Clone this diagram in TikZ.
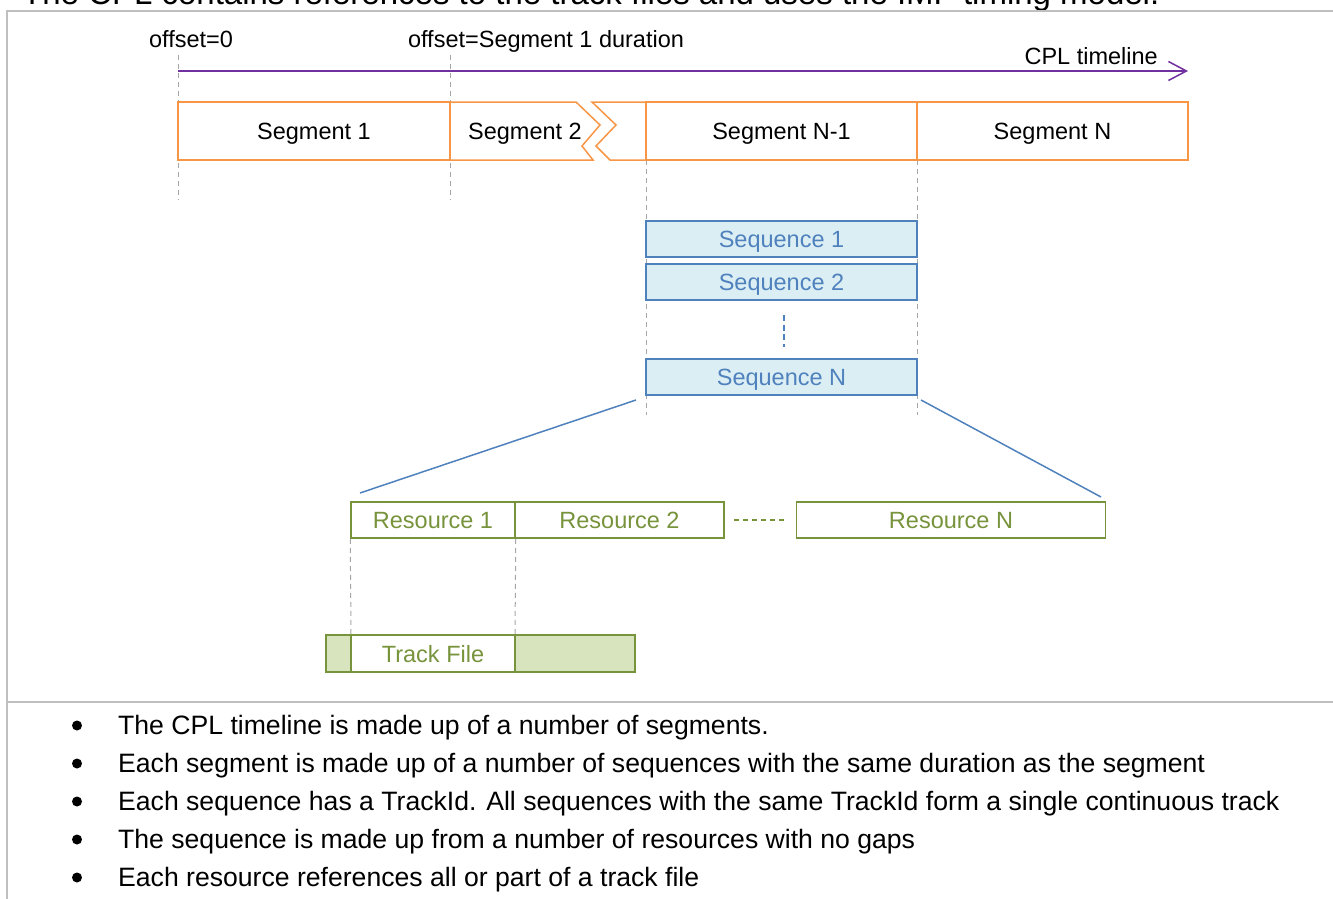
\documentclass[tikz,border=0pt]{standalone}
\usepackage{fontspec}
\setmainfont{Liberation Sans}
\usetikzlibrary{arrows.meta}
\definecolor{framegray}{RGB}{191,191,191}
\definecolor{guidegray}{RGB}{166,166,166}
\definecolor{segorange}{RGB}{247,150,70}
\definecolor{tlpurple}{RGB}{112,48,160}
\definecolor{seqblue}{RGB}{79,129,189}
\definecolor{seqfill}{RGB}{219,238,244}
\definecolor{resgreen}{RGB}{119,147,60}
\definecolor{trackfill}{RGB}{215,228,189}

\begin{document}
\begin{tikzpicture}[x=1pt,y=-1pt,
  lbl/.style={font=\fontsize{23.5}{28}\selectfont, inner sep=0pt, text height=17pt, text depth=0pt},
  bul/.style={font=\fontsize{26.6}{32}\selectfont, inner sep=0pt},
  dotmark/.style={circle, fill=black, inner sep=0pt, minimum size=10pt},
  guide/.style={draw=guidegray, line width=1pt, dash pattern=on 5pt off 4pt},
  segbox/.style={lbl, draw=segorange, line width=1.5pt, fill=white, minimum height=58pt},
  seqbox/.style={lbl, draw=seqblue, line width=1.5pt, fill=seqfill, text=seqblue, minimum width=271pt, minimum height=36pt},
  resbox/.style={lbl, draw=resgreen, line width=1.5pt, fill=white, text=resgreen, minimum height=36pt},
  link/.style={draw=seqblue, line width=1.5pt}]

\useasboundingbox (0,0) rectangle (1333,899);
\clip (0,0) rectangle (1333,899);

% heading, cut by the top edge
\node[font=\fontsize{33}{40}\selectfont, anchor=base west, inner sep=0pt] (head) at (22,5)
  {The CPL contains references to the track files and uses the IMF timing model.};

% frame
\draw[framegray, line width=2pt] (1333,11) -- (7,11) -- (7,899);
\draw[framegray, line width=2pt] (7,702) -- (1333,702);

% offset labels and guides
\node[lbl, anchor=base] (off0) at (191,48) {offset=0};
\node[lbl, anchor=base] (off1) at (546,48) {offset=Segment 1 duration};
\draw[guide] (178,55) -- (178,200);
\draw[guide] (450,55) -- (450,200);
\draw[guide] (646,160) -- (646,415);
\draw[guide] (917,160) -- (917,415);

% CPL timeline
\coordinate (tl0) at (178,71);
\coordinate (tl1) at (1188,71);
\draw[tlpurple, line width=1.5pt, -{Straight Barb[length=18pt,width=19pt,line width=1.5pt]}] (tl0) -- (tl1);
\node[lbl, anchor=base east] (tllbl) at (1158,64) {CPL timeline};

% segments
\node[segbox, minimum width=272pt] (seg1) at (314,131) {Segment 1};
\draw[segorange, line width=1.5pt, fill=white, line join=miter]
  (450,102) -- (576,102) -- (600,125) -- (582,146) -- (593,160) -- (450,160) -- cycle;
\node[lbl] (seg2) at (525,131) {Segment 2};
\draw[segorange, line width=1.5pt, fill=white]
  (646,102) -- (592,102) -- (616,125) -- (596,146) -- (610,160) -- (646,160);
\node[segbox, minimum width=271pt] (segn1) at (781.5,131) {Segment N-1};
\node[segbox, minimum width=271pt] (segn) at (1052.5,131) {Segment N};

% sequences
\node[seqbox] (sq1) at (781.5,239) {Sequence 1};
\node[seqbox] (sq2) at (781.5,282) {Sequence 2};
\node[seqbox] (sqn) at (781.5,377) {Sequence N};
\coordinate (gap0) at (784,315);
\coordinate (gap1) at (784,347);
\draw[seqblue, line width=1.5pt, dash pattern=on 6pt off 3.5pt] (gap0) -- (gap1);

% resources
\node[resbox, minimum width=164pt] (r1) at (433,520) {Resource 1};
\node[resbox, minimum width=209pt] (r2) at (619.5,520) {Resource 2};
\node[resbox, minimum width=309pt] (rn) at (951,520) {Resource N};
\draw[resgreen, line width=1.5pt, dash pattern=on 5pt off 4pt] ([xshift=9pt]r2.east) -- ([xshift=-12pt]rn.west);

% zoom lines from the last sequence to the resources
\coordinate (zl0) at (636,400);
\coordinate (zl1) at (360,493);
\coordinate (zr0) at (921,400);
\coordinate (zr1) at (1101,497);
\draw[link] (zl0) -- (zl1);
\draw[link] (zr0) -- (zr1);

% track file
\draw[guide] (r1.south west) -- (351,635);
\draw[guide] (r1.south east) -- (515,635);
\node[resbox, fill=trackfill, minimum width=309pt, minimum height=37pt] (tf) at (480.5,653.5) {};
\node[resbox, minimum width=164pt, minimum height=37pt] (tfpart) at (433,653.5) {Track File};

% notes
\foreach \y/\t [count=\i] in {
  734/{The CPL timeline is made up of a number of segments.},
  772/{Each segment is made up of a number of sequences with the same duration as the segment},
  810/{Each sequence has a TrackId. All sequences with the same TrackId form a single continuous track},
  848/{The sequence is made up from a number of resources with no gaps},
  886/{Each resource references all or part of a track file}} {
  \node[dotmark] (dot\i) at (77,\y-8.5) {};
  \node[bul, anchor=base west] (note\i) at (118,\y) {\t};
}
\end{tikzpicture}
\end{document}
